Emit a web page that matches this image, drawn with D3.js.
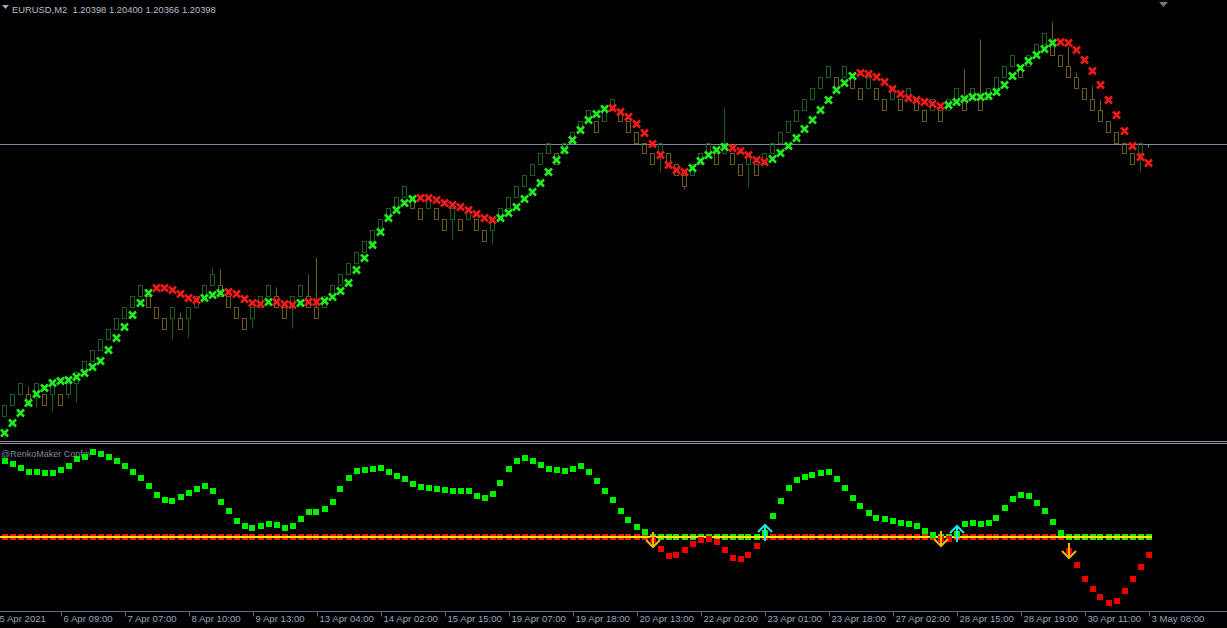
<!DOCTYPE html>
<html><head><meta charset="utf-8">
<script src="https://cdn.jsdelivr.net/npm/d3@7"></script>
<style>html,body{margin:0;padding:0;background:#000;overflow:hidden}svg{display:block}</style>
</head><body>
<svg id="chart" width="1227" height="628"></svg>
<script>
// ---------- data ----------
const symbolTitle = "EURUSD,M2  1.20398 1.20400 1.20366 1.20398";
const indicatorTitle = "@RenkoMaker Confm";
const bidPrice = 1.20398;

// candles (bar index 0..143)
const opens = [
1.1768,1.1779,1.1790,1.1790,1.1790,1.1790,1.1790,1.1790,1.1790,1.1801,
1.1812,1.1823,1.1834,1.1845,1.1855,1.1866,1.1877,1.1888,1.1888,1.1877,
1.1866,1.1866,1.1866,1.1866,1.1877,1.1888,1.1899,1.1899,1.1888,1.1877,
1.1866,1.1866,1.1877,1.1888,1.1888,1.1877,1.1877,1.1888,1.1888,1.1877,
1.1877,1.1888,1.1899,1.1910,1.1921,1.1932,1.1943,1.1954,1.1965,1.1976,
1.1987,1.1987,1.1976,1.1976,1.1976,1.1965,1.1965,1.1965,1.1965,1.1965,
1.1954,1.1954,1.1965,1.1976,1.1987,1.1998,1.2009,1.2020,1.2031,1.2031,
1.2031,1.2041,1.2052,1.2063,1.2063,1.2063,1.2074,1.2074,1.2063,1.2052,
1.2041,1.2031,1.2031,1.2031,1.2020,1.2009,1.2009,1.2020,1.2031,1.2031,
1.2031,1.2031,1.2020,1.2020,1.2020,1.2020,1.2031,1.2041,1.2052,1.2063,
1.2074,1.2085,1.2096,1.2107,1.2107,1.2107,1.2107,1.2096,1.2096,1.2096,
1.2085,1.2085,1.2085,1.2085,1.2085,1.2074,1.2074,1.2074,1.2074,1.2085,
1.2085,1.2085,1.2085,1.2085,1.2096,1.2107,1.2118,1.2118,1.2118,1.2129,
1.2140,1.2140,1.2129,1.2118,1.2107,1.2096,1.2085,1.2074,1.2063,1.2052,
1.2041,1.2031,1.2031,1.20398];
const highs = [
1.1779,1.1790,1.1801,1.1798,1.1801,1.1790,1.1801,1.1790,1.1801,1.1812,
1.1823,1.1834,1.1845,1.1855,1.1866,1.1877,1.1888,1.1899,1.1888,1.1877,
1.1866,1.1877,1.1872,1.1877,1.1888,1.1899,1.1917,1.1915,1.1888,1.1877,
1.1866,1.1877,1.1888,1.1899,1.1897,1.1877,1.1888,1.1899,1.1910,1.1927,
1.1888,1.1899,1.1910,1.1921,1.1932,1.1943,1.1954,1.1965,1.1976,1.1987,
1.1998,1.1987,1.1976,1.1987,1.1976,1.1965,1.1976,1.1965,1.1976,1.1965,
1.1954,1.1965,1.1976,1.1987,1.1998,1.2009,1.2020,1.2031,1.2041,1.2031,
1.2041,1.2052,1.2063,1.2074,1.2063,1.2074,1.2085,1.2074,1.2063,1.2052,
1.2041,1.2031,1.2041,1.2031,1.2020,1.2009,1.2020,1.2031,1.2041,1.2031,
1.2077,1.2031,1.2020,1.2031,1.2020,1.2031,1.2041,1.2052,1.2063,1.2074,
1.2085,1.2096,1.2107,1.2118,1.2107,1.2118,1.2107,1.2096,1.2107,1.2096,
1.2085,1.2096,1.2085,1.2096,1.2085,1.2074,1.2085,1.2074,1.2085,1.2096,
1.2115,1.2096,1.2145,1.2096,1.2107,1.2118,1.2129,1.2118,1.2129,1.2140,
1.2151,1.2162,1.2129,1.2138,1.2112,1.2096,1.2098,1.2085,1.2063,1.2052,
1.2041,1.2031,1.2041,1.20400];
const lows = [
1.1768,1.1779,1.1790,1.1779,1.1777,1.1779,1.1773,1.1779,1.1786,1.1782,
1.1812,1.1823,1.1834,1.1845,1.1855,1.1866,1.1877,1.1888,1.1877,1.1866,
1.1855,1.1845,1.1855,1.1847,1.1877,1.1888,1.1899,1.1888,1.1877,1.1866,
1.1855,1.1856,1.1877,1.1888,1.1877,1.1866,1.1856,1.1888,1.1877,1.1866,
1.1877,1.1888,1.1899,1.1910,1.1921,1.1932,1.1943,1.1954,1.1965,1.1976,
1.1987,1.1976,1.1965,1.1976,1.1965,1.1954,1.1945,1.1954,1.1965,1.1954,
1.1943,1.1940,1.1965,1.1976,1.1987,1.1998,1.2009,1.2020,1.2031,1.2020,
1.2031,1.2041,1.2052,1.2063,1.2052,1.2063,1.2074,1.2063,1.2052,1.2041,
1.2031,1.2020,1.2012,1.2020,1.2009,1.1995,1.2009,1.2020,1.2031,1.2020,
1.2031,1.2020,1.2009,1.1997,1.2009,1.2020,1.2031,1.2041,1.2052,1.2063,
1.2074,1.2085,1.2096,1.2107,1.2096,1.2107,1.2096,1.2085,1.2096,1.2085,
1.2074,1.2085,1.2074,1.2085,1.2074,1.2063,1.2074,1.2063,1.2074,1.2085,
1.2074,1.2085,1.2074,1.2085,1.2096,1.2107,1.2118,1.2107,1.2118,1.2129,
1.2140,1.2129,1.2118,1.2107,1.2096,1.2085,1.2074,1.2063,1.2052,1.2041,
1.2031,1.2020,1.2012,1.20366];
const closes = [
1.1779,1.1790,1.1801,1.1779,1.1801,1.1779,1.1801,1.1779,1.1801,1.1812,
1.1823,1.1834,1.1845,1.1855,1.1866,1.1877,1.1888,1.1899,1.1877,1.1866,
1.1855,1.1877,1.1855,1.1877,1.1888,1.1899,1.1910,1.1888,1.1877,1.1866,
1.1855,1.1877,1.1888,1.1899,1.1877,1.1866,1.1888,1.1899,1.1877,1.1866,
1.1888,1.1899,1.1910,1.1921,1.1932,1.1943,1.1954,1.1965,1.1976,1.1987,
1.1998,1.1976,1.1965,1.1987,1.1965,1.1954,1.1976,1.1954,1.1976,1.1954,
1.1943,1.1965,1.1976,1.1987,1.1998,1.2009,1.2020,1.2031,1.2041,1.2020,
1.2041,1.2052,1.2063,1.2074,1.2052,1.2074,1.2085,1.2063,1.2052,1.2041,
1.2031,1.2020,1.2041,1.2020,1.2009,1.1998,1.2020,1.2031,1.2041,1.2020,
1.2041,1.2020,1.2009,1.2031,1.2009,1.2031,1.2041,1.2052,1.2063,1.2074,
1.2085,1.2096,1.2107,1.2118,1.2096,1.2118,1.2096,1.2085,1.2107,1.2085,
1.2074,1.2096,1.2074,1.2096,1.2074,1.2063,1.2085,1.2063,1.2085,1.2096,
1.2074,1.2096,1.2074,1.2096,1.2107,1.2118,1.2129,1.2107,1.2129,1.2140,
1.2151,1.2129,1.2118,1.2107,1.2096,1.2085,1.2074,1.2063,1.2052,1.2041,
1.2031,1.2020,1.2041,1.20398];

// smoothed line drawn with X markers
const signalLine = [
1.1752,1.1762,1.1772,1.1782,1.1791,1.1797,1.1802,1.1804,1.1805,1.1808,
1.1812,1.1818,1.1824,1.1835,1.1847,1.1858,1.1870,1.1882,1.1892,1.1897,
1.1897,1.1895,1.1891,1.1887,1.1885,1.1887,1.1890,1.1892,1.1893,1.1891,
1.1886,1.1882,1.1881,1.1883,1.1883,1.1881,1.1880,1.1882,1.1883,1.1883,
1.1884,1.1888,1.1894,1.1902,1.1915,1.1927,1.1940,1.1953,1.1967,1.1975,
1.1982,1.1986,1.1987,1.1987,1.1985,1.1982,1.1980,1.1978,1.1975,1.1971,
1.1967,1.1965,1.1967,1.1972,1.1978,1.1986,1.1993,1.2002,1.2013,1.2025,
1.2035,1.2045,1.2055,1.2065,1.2071,1.2076,1.2077,1.2073,1.2068,1.2061,
1.2052,1.2041,1.2030,1.2020,1.2015,1.2013,1.2017,1.2024,1.2030,1.2035,
1.2038,1.2037,1.2034,1.2030,1.2025,1.2023,1.2026,1.2032,1.2039,1.2047,
1.2056,1.2065,1.2075,1.2085,1.2095,1.2102,1.2109,1.2112,1.2111,1.2108,
1.2103,1.2096,1.2091,1.2087,1.2085,1.2083,1.2081,1.2079,1.2080,1.2083,
1.2086,1.2088,1.2088,1.2089,1.2093,1.2100,1.2109,1.2117,1.2124,1.2130,
1.2136,1.2142,1.2143,1.2142,1.2135,1.2125,1.2114,1.2100,1.2085,1.2070,
1.2054,1.2039,1.2028,1.2022];
// u = rising (green X), d = falling (red X)
const signalTrend =
"uuuuuuuuuuuuuuuuuuu" + "dddddd" + "uuu" + "ddddd" + "u" + "ddd" + "u" + "dd" +
"uuuuuuuuuuuu" + "dddddddddd" + "uuuuuuuuuuuuuu" + "dddddddddd" + "uuuuu" +
"ddddd" + "uuuuuuuuuuu" + "ddddddddddd" + "uuuuuuuuuuuuuu" + "dddddddddddd";

// oscillator (RenkoMaker Confm) values, level 0
const oscValues = [
7.6,7.3,6.9,6.5,6.5,6.4,6.4,6.7,7.1,7.8,
8.0,8.5,8.3,8.0,7.6,7.1,6.5,5.9,5.1,4.2,
3.7,3.6,4.0,4.4,4.8,5.1,4.6,3.5,2.6,1.6,
1.1,0.9,1.1,1.3,1.2,0.9,1.1,1.8,2.5,2.5,
2.8,3.5,4.8,5.9,6.6,6.7,6.8,6.9,6.5,6.1,
5.8,5.3,5.0,4.9,4.8,4.7,4.6,4.6,4.6,4.1,
3.9,4.3,5.4,6.8,7.6,7.9,7.6,7.2,6.8,6.7,
6.6,6.8,7.1,6.5,5.6,4.6,3.7,2.6,1.7,1.0,
0.5,-0.3,-1.2,-1.9,-1.8,-1.3,-0.7,-0.3,-0.2,-0.5,
-1.3,-2.1,-2.2,-1.8,-0.9,0.4,2.1,3.6,4.9,5.7,
6.0,6.2,6.4,6.5,5.8,4.9,3.9,3.1,2.4,1.9,
1.8,1.6,1.4,1.3,1.1,0.6,0.2,-0.2,-0.2,0.3,
1.3,1.4,1.3,1.4,1.9,2.9,3.8,4.2,4.1,3.4,
2.6,1.5,0.4,-1.4,-2.8,-4.2,-5.2,-6.0,-6.6,-6.4,
-5.4,-4.2,-3.0,-1.8];
const oscLevel = 0;
const downArrowBars = [81, 117, 133];
const upArrowBars = [95, 119];

// time axis: label bar index and text
const tickBars = [-1,7,15,23,31,39,47,55,63,71,79,87,95,103,111,119,127,135,143];
const tickLabels = ["5 Apr 2021","6 Apr 09:00","7 Apr 07:00","8 Apr 10:00","9 Apr 13:00",
"13 Apr 04:00","14 Apr 02:00","15 Apr 15:00","19 Apr 07:00","19 Apr 18:00","20 Apr 13:00",
"22 Apr 02:00","23 Apr 01:00","23 Apr 18:00","27 Apr 02:00","28 Apr 15:00","28 Apr 19:00",
"30 Apr 11:00","3 May 08:00"];

// ---------- drawing ----------
const W = 1227, H = 628;
const svg = d3.select("#chart");
svg.append("rect").attr("width", W).attr("height", H).attr("fill", "#000");

const nBars = signalLine.length;
const x = d3.scaleLinear().domain([0, nBars - 1]).range([4.5, 4.5 + 8 * (nBars - 1)]);
const yMain = d3.scaleLinear().domain([1.1744, 1.2185]).range([441, 0]);
const yOsc = d3.scaleLinear().domain([-7.3, 9.3]).range([610, 444]);
const crisp = v => Math.round(v) - 0.5;

const FONT = "'Liberation Sans', Arial, sans-serif";
const upCol = "#1d5e20", dnCol = "#6c5b1c", dojiCol = "#8c8c8c";
const xGreen = "#1ef01e", xRed = "#f51a1a";
const oscGreen = "#00ee00", oscRed = "#ee0000";

// main panel
const main = svg.append("g");
// bid line
main.append("line").attr("x1", 0).attr("x2", W)
  .attr("y1", crisp(yMain(bidPrice))).attr("y2", crisp(yMain(bidPrice)))
  .attr("stroke", "#7d8a9e").attr("stroke-width", 1);

// candles
const candles = d3.range(opens.length).map(i => ({i, o: opens[i], h: highs[i], l: lows[i], c: closes[i]}));
const cg = main.append("g");
candles.forEach(d => {
  const col = d.c > d.o ? upCol : (d.c < d.o ? dnCol : dojiCol);
  const cx = x(d.i);
  const top = crisp(yMain(Math.max(d.o, d.c))), bot = crisp(yMain(Math.min(d.o, d.c)));
  const hy = crisp(yMain(d.h)), ly = crisp(yMain(d.l));
  if (hy < top) cg.append("line").attr("x1", cx).attr("x2", cx).attr("y1", hy).attr("y2", top).attr("stroke", col);
  if (ly > bot) cg.append("line").attr("x1", cx).attr("x2", cx).attr("y1", bot).attr("y2", ly).attr("stroke", col);
  if (bot - top >= 1) {
    cg.append("rect").attr("x", cx - 2).attr("y", top).attr("width", 4).attr("height", bot - top)
      .attr("fill", "none").attr("stroke", col).attr("stroke-width", 1);
  } else {
    cg.append("line").attr("x1", cx - 2).attr("x2", cx + 2).attr("y1", top).attr("y2", top).attr("stroke", col);
  }
});

// X markers
main.append("g").selectAll("path").data(signalLine).join("path")
  .attr("transform", (d, i) => `translate(${x(i)},${yMain(d)})`)
  .attr("d", "M-3.5,-3.5L3.5,3.5M-3.5,3.5L3.5,-3.5")
  .attr("stroke", (d, i) => signalTrend[i] === "u" ? xGreen : xRed)
  .attr("stroke-width", 2.6).attr("fill", "none").attr("stroke-linecap", "butt");

// header
main.append("path").attr("d", "M2,5L9,5L5.5,9Z").attr("fill", "#9ea7b3");
main.append("text").attr("x", 12).attr("y", 12.5).attr("fill", "#b7bfcc")
  .style("font-family", FONT).style("font-size", "9.4px").attr("xml:space", "preserve")
  .text(symbolTitle);
main.append("path").attr("d", "M1159,2L1168,2L1163.5,7Z").attr("fill", "#6f7884");

// separators
svg.append("line").attr("x1", 0).attr("x2", W).attr("y1", 441.5).attr("y2", 441.5).attr("stroke", "#8e9aae");
svg.append("line").attr("x1", 0).attr("x2", W).attr("y1", 443.5).attr("y2", 443.5).attr("stroke", "#8e9aae");

// indicator panel
const ind = svg.append("g");
ind.append("text").attr("x", 1).attr("y", 456.5).attr("fill", "#7f8b9c")
  .style("font-family", FONT).style("font-size", "9px").text(indicatorTitle);

const ly0 = Math.round(yOsc(oscLevel));
// level squares (opposite colour of oscillator)
ind.append("g").selectAll("rect").data(oscValues).join("rect")
  .attr("x", (d, i) => Math.round(x(i)) - 3).attr("y", ly0 - 3).attr("width", 6).attr("height", 6)
  .attr("fill", d => d >= oscLevel ? "#ff1a00" : "#33e000");
ind.append("line").attr("x1", 0).attr("x2", Math.round(x(nBars - 1)) + 3)
  .attr("y1", ly0).attr("y2", ly0).attr("stroke", "#ffe600").attr("stroke-width", 2);

// oscillator squares
ind.append("g").selectAll("rect").data(oscValues).join("rect")
  .attr("x", (d, i) => Math.round(x(i)) - 3).attr("y", d => Math.round(yOsc(d)) - 3)
  .attr("width", 6).attr("height", 6)
  .attr("fill", d => d >= oscLevel ? oscGreen : oscRed);

// arrows
downArrowBars.forEach(i => {
  const cx = Math.round(x(i)), tip = yOsc(oscValues[i]) + 7;
  ind.append("path").attr("d", `M${cx},${tip - 15}L${cx},${tip}M${cx - 7},${tip - 7}L${cx},${tip}L${cx + 7},${tip - 7}`)
    .attr("stroke", "#f2b800").attr("stroke-width", 2).attr("fill", "none");
});
upArrowBars.forEach(i => {
  const cx = Math.round(x(i)), tip = yOsc(oscValues[i]) - 8;
  ind.append("path").attr("d", `M${cx},${tip + 16}L${cx},${tip}M${cx - 7},${tip + 7}L${cx},${tip}L${cx + 7},${tip + 7}`)
    .attr("stroke", "#18e8e8").attr("stroke-width", 2).attr("fill", "none");
});

// time axis
const axY = 611.5;
svg.append("line").attr("x1", 0).attr("x2", W).attr("y1", axY).attr("y2", axY).attr("stroke", "#5d6d85");
const axis = d3.axisBottom(x).tickValues(tickBars).tickSize(5).tickFormat((d, k) => tickLabels[k]);
const ag = svg.append("g").attr("transform", `translate(0.5,${axY})`).call(axis);
ag.select(".domain").remove();
ag.selectAll(".tick line").attr("stroke", "#5d6d85");
ag.selectAll(".tick text").attr("fill", "#95a5be").attr("text-anchor", "start")
  .attr("x", 2).attr("y", 4).attr("dy", "0.71em")
  .style("font-family", FONT).style("font-size", "9.6px");
</script>
</body></html>
